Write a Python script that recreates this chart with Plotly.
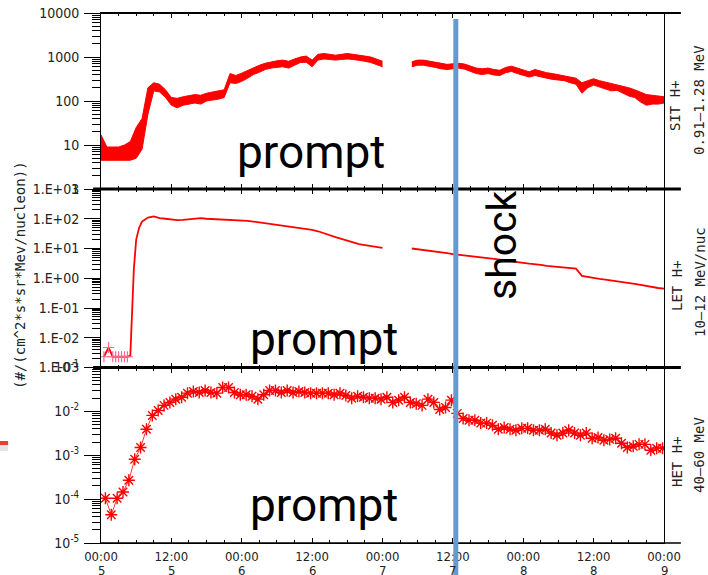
import plotly.graph_objects as go
import pandas as pd

BASE = pd.Timestamp("2012-03-05 00:00")
END = BASE + pd.Timedelta(hours=96)

# ---------------- data ----------------
# SIT H+ 0.91-1.28 MeV : hourly low / high envelope of the noisy trace
sit_hours_1 = list(range(0, 49))
sit_lo_1 = [4.5, 4.5, 4.5, 4.5, 4.5, 4.5, 5, 8, 50, 170, 160, 120, 80, 70, 80, 85, 90, 85, 100, 105,
            110, 120, 260, 250, 280, 330, 400, 450, 520, 560, 580, 600, 560, 650, 750, 760, 600, 850,
            900, 880, 850, 880, 900, 880, 850, 800, 750, 680, 600]
sit_hi_1 = [17, 9, 9, 9, 10, 12, 25, 40, 200, 260, 240, 180, 120, 115, 125, 130, 140, 135, 150, 160,
            170, 180, 420, 380, 430, 500, 580, 650, 720, 780, 820, 850, 800, 900, 1000, 1050, 850, 1150,
            1200, 1150, 1100, 1150, 1200, 1150, 1120, 1050, 1000, 900, 800]
sit_hours_2 = list(range(53, 97))
sit_lo_2 = [600, 650, 650, 620, 580, 540, 520, 540, 560, 530, 470, 420, 400, 420, 390, 380, 440, 470,
            420, 380, 350, 380, 350, 330, 310, 300, 290, 260, 240, 150, 200, 230, 210, 190, 170, 175,
            150, 130, 120, 95, 80, 85, 85, 90]
sit_hi_2 = [780, 850, 850, 800, 760, 720, 680, 700, 720, 690, 620, 560, 540, 560, 520, 500, 580, 620,
            560, 500, 460, 520, 470, 440, 420, 400, 380, 350, 330, 260, 290, 320, 290, 270, 250, 240,
            220, 200, 180, 160, 140, 135, 130, 125]

# LET H+ 10-12 MeV/nuc
let_marker_hours = [0.5, 1.3, 2.0, 2.5, 3.0, 3.5, 4.0, 4.5]
let_marker_vals = [2.3e-3, 4.7e-3, 2.3e-3, 2.3e-3, 2.3e-3, 2.3e-3, 2.3e-3, 2.3e-3]
let_hours_1 = [0.5, 1.3, 2.0, 2.5, 3.0, 3.5, 4.0, 4.5, 5.0, 5.3, 5.6, 6.0, 6.5, 7, 8, 9, 10, 11, 12,
               13, 14, 15, 16, 17, 18, 19, 20, 21, 22, 23, 24, 25, 26, 27, 28, 29, 30, 31, 32, 33,
               34, 35, 36, 37, 38, 39, 40, 41, 42, 43, 44, 45, 46, 47, 48]
let_vals_1 = [2.3e-3, 4.7e-3, 2.3e-3, 2.3e-3, 2.3e-3, 2.3e-3, 2.3e-3, 2.3e-3, 2.5e-3, 0.05, 2.0, 20,
              50, 80, 110, 120, 105, 100, 95, 90, 92, 95, 100, 105, 100, 98, 95, 92, 90, 92, 88, 85,
              80, 75, 70, 68, 65, 60, 55, 52, 50, 45, 42, 38, 32, 28, 24, 21, 18, 16, 14, 13, 12,
              11, 10.5]
let_hours_2 = list(range(53, 97))
let_vals_2 = [10, 9.5, 9, 8.5, 8, 7.5, 7, 6.5, 6.2, 6, 5.5, 5.2, 5, 4.7, 4.5, 4.2, 4, 3.8, 3.6, 3.3,
              3.1, 3, 2.8, 2.6, 2.5, 2.4, 2.3, 2.2, 2.1, 1.2, 1.1, 1.0, 0.95, 0.9, 0.85, 0.8, 0.75,
              0.7, 0.65, 0.6, 0.55, 0.5, 0.47, 0.45]

# HET H+ 40-60 MeV (hourly points starting 00:45 on day 5)
het_vals = [1.05e-4, 4.4e-5, 1.05e-4, 1.45e-4, 2.7e-4, 8.1e-4, 1.5e-3, 3.9e-3, 8.1e-3, 1.05e-2,
            1.37e-2, 1.6e-2, 1.9e-2, 2.1e-2, 2.6e-2, 2.85e-2, 2.7e-2, 3.0e-2, 2.7e-2, 2.6e-2,
            3.5e-2, 3.5e-2, 2.7e-2, 2.4e-2, 2.4e-2, 2.2e-2, 1.9e-2, 2.4e-2, 3.0e-2, 3.0e-2,
            2.7e-2, 3.0e-2, 2.7e-2, 2.85e-2, 2.7e-2, 2.6e-2, 2.6e-2, 2.6e-2, 2.6e-2, 2.4e-2,
            2.6e-2, 2.3e-2, 2.0e-2, 2.2e-2, 2.1e-2, 2.0e-2, 2.0e-2, 1.9e-2, 2.1e-2, 1.6e-2,
            1.8e-2, 2.1e-2,
            1.6e-2, 1.5e-2, 1.37e-2, 1.9e-2, 1.6e-2, 1.1e-2, 1.23e-2, 1.8e-2, 9.0e-3, 6.9e-3,
            6.3e-3, 6.3e-3, 5.4e-3, 5.4e-3, 4.8e-3, 3.9e-3, 4.3e-3, 3.9e-3, 3.7e-3, 4.1e-3,
            4.1e-3, 3.7e-3, 3.7e-3, 3.9e-3, 3.2e-3, 2.85e-3, 3.2e-3, 3.7e-3, 3.2e-3, 2.85e-3,
            3.2e-3, 2.45e-3, 2.55e-3, 2.2e-3, 2.3e-3, 2.45e-3, 1.87e-3, 1.5e-3, 1.6e-3, 1.77e-3,
            1.77e-3, 1.3e-3, 1.45e-3, 1.45e-3]
het_times = pd.date_range(BASE + pd.Timedelta(minutes=45), periods=len(het_vals), freq="h")

shock_time = BASE + pd.Timedelta(hours=60.5)

x_tick_hours = [0, 12, 24, 36, 48, 60, 72, 84, 96]
x_tick_text = ["00:00", "12:00", "00:00", "12:00", "00:00", "12:00", "00:00", "12:00", "00:00"]
x_day_text = ["5", "5", "6", "6", "7", "7", "8", "8", "9"]

sit_ticks = [1, 10, 100, 1000, 10000]
sit_ticktext = ["1", "10", "100", "1000", "10000"]
let_ticks = [1e-3, 1e-2, 1e-1, 1, 10, 100, 1000]
let_ticktext = ["1.E-03", "1.E-02", "1.E-01", "1.E+00", "1.E+01", "1.E+02", "1.E+03"]
het_ticks = [1e-5, 1e-4, 1e-3, 1e-2, 1e-1]
het_ticktext = ["10<sup>-5</sup>", "10<sup>-4</sup>", "10<sup>-3</sup>", "10<sup>-2</sup>", "10<sup>-1</sup>"]


def T(hours):
    return [BASE + pd.Timedelta(hours=h) for h in hours]


def minor_vals(d0, d1):
    return [k * 10.0 ** d for d in range(d0, d1) for k in range(2, 10)]


RED = "#ff0000"
fig = go.Figure()

# SIT band (top panel)
for hrs, lo, hi in [(sit_hours_1, sit_lo_1, sit_hi_1), (sit_hours_2, sit_lo_2, sit_hi_2)]:
    fig.add_trace(go.Scatter(x=T(hrs), y=lo, mode="lines", line=dict(color=RED, width=1),
                             xaxis="x3", yaxis="y3", showlegend=False, hoverinfo="skip"))
    fig.add_trace(go.Scatter(x=T(hrs), y=hi, mode="lines", line=dict(color=RED, width=1),
                             fill="tonexty", fillcolor=RED,
                             xaxis="x3", yaxis="y3", showlegend=False, hoverinfo="skip"))

# LET (middle)
fig.add_trace(go.Scatter(x=T(let_hours_1), y=let_vals_1, mode="lines", line=dict(color=RED, width=1.8),
                         xaxis="x2", yaxis="y2", showlegend=False))
fig.add_trace(go.Scatter(x=T(let_hours_2), y=let_vals_2, mode="lines", line=dict(color=RED, width=1.8),
                         xaxis="x2", yaxis="y2", showlegend=False))
fig.add_trace(go.Scatter(x=T(let_marker_hours), y=let_marker_vals, mode="markers",
                         marker=dict(symbol="cross-thin-open", size=8, line=dict(color=RED, width=1.2)),
                         xaxis="x2", yaxis="y2", showlegend=False))

# HET (bottom)
fig.add_trace(go.Scatter(x=het_times, y=het_vals, mode="lines+markers",
                         line=dict(color=RED, width=0.8),
                         marker=dict(symbol="asterisk-open", size=10, line=dict(color=RED, width=1.4)),
                         xaxis="x", yaxis="y", showlegend=False))

NARROW = "Liberation Sans Narrow, DejaVu Sans Condensed, Liberation Sans"
TICKFONT = dict(family=NARROW, size=14, color="#222")
XTICKFONT = dict(family=NARROW, size=13, color="#222")

d_bot = (543 - 367.5) / 530
d_mid = (543 - 189) / 530

xcommon = dict(type="date", range=[BASE, END], showgrid=False, zeroline=False, automargin=False,
               showline=True, linecolor="black", linewidth=1, mirror="ticks",
               ticks="inside", ticklen=5, tickcolor="black",
               tickvals=T(x_tick_hours),
               minor=dict(ticks="inside", ticklen=3, tickcolor="black",
                          tickvals=T(list(range(0, 97, 3)))))
ycommon = dict(type="log", showgrid=False, zeroline=False, showline=True, linecolor="black",
               linewidth=1, mirror=True, ticks="outside", ticklen=16, tickcolor="black", automargin=False,
               tickfont=TICKFONT, ticklabelstandoff=2)

fig.update_layout(
    width=708, height=575,
    margin=dict(l=101, r=44, t=13, b=32, autoexpand=False),
    paper_bgcolor="white", plot_bgcolor="white",
    xaxis=dict(xcommon, anchor="y", ticktext=x_tick_text, tickfont=XTICKFONT, ticklabelstandoff=1),
    xaxis2=dict(xcommon, anchor="y2", matches="x", showticklabels=False),
    xaxis3=dict(xcommon, anchor="y3", matches="x", showticklabels=False),
    yaxis=dict(ycommon, domain=[0, d_bot], range=[-5, -1], tickvals=het_ticks, ticktext=het_ticktext,
               minor=dict(ticks="outside", ticklen=8, tickcolor="black", tickvals=minor_vals(-5, -1))),
    yaxis2=dict(ycommon, domain=[d_bot, d_mid], range=[-3, 3], tickvals=let_ticks, ticktext=let_ticktext,
                minor=dict(ticks="outside", ticklen=8, tickcolor="black", tickvals=minor_vals(-3, 3))),
    yaxis3=dict(ycommon, domain=[d_mid, 1], range=[0, 4], tickvals=sit_ticks, ticktext=sit_ticktext,
                minor=dict(ticks="outside", ticklen=8, tickcolor="black", tickvals=minor_vals(0, 4))),
)

shapes = []
# panel separators and frame lines extending to the right
for yp, w in [(d_mid, 3), (d_bot, 3)]:
    shapes.append(dict(type="line", xref="paper", yref="paper", x0=-0.014, x1=1.03, y0=yp, y1=yp,
                       line=dict(color="black", width=w)))
shapes.append(dict(type="line", xref="paper", yref="paper", x0=0, x1=1.03, y0=1, y1=1,
                   line=dict(color="black", width=2)))
shapes.append(dict(type="line", xref="paper", yref="paper", x0=0, x1=1.03, y0=0, y1=0,
                   line=dict(color="black", width=1.5)))
# shock line
shapes.append(dict(type="line", xref="x", yref="paper", x0=shock_time, x1=shock_time,
                   y0=(543 - 19) / 530, y1=-0.07, line=dict(color="#6699CC", width=5)))
# small red mark on the left edge
shapes.append(dict(type="rect", xref="paper", yref="paper", x0=-0.18, x1=-0.165,
                   y0=(543 - 445) / 530, y1=(543 - 441) / 530, line=dict(width=0), fillcolor="#e8402a"))
shapes.append(dict(type="rect", xref="paper", yref="paper", x0=-0.18, x1=-0.165,
                   y0=(543 - 451) / 530, y1=(543 - 445) / 530, line=dict(width=0), fillcolor="#e4e4e4"))
fig.update_layout(shapes=shapes)

ann = []
# day numbers under the time labels
for h, d in zip(x_tick_hours, x_day_text):
    ann.append(dict(xref="x", yref="paper", x=BASE + pd.Timedelta(hours=h), y=(543 - 570) / 530,
                    text=d, showarrow=False, font=XTICKFONT, xanchor="center", yanchor="middle"))
PFONT = dict(family="Roboto, Open Sans, sans-serif", size=46, color="black")
for xp, yp in [(311, 152), (324, 339), (324, 505)]:
    ann.append(dict(xref="paper", yref="paper", x=(xp - 101) / 563, y=(543 - yp) / 530, text="prompt",
                    showarrow=False, font=PFONT, xanchor="center", yanchor="middle"))
ann.append(dict(xref="paper", yref="paper", x=(502 - 101) / 563, y=(543 - 245) / 530, text="shock",
                showarrow=False, font=dict(family="Roboto, Open Sans, sans-serif", size=41, color="black"),
                textangle=-90, xanchor="center", yanchor="middle"))
RFONT = dict(family="DejaVu Sans Mono", size=14, color="#222")
for xp, yp, txt in [(675, 106, "SIT H+"), (699, 100, "0.91—1.28 MeV"),
                    (677, 286, "LET H+"), (700, 282, "10—12 MeV/nuc"),
                    (677, 462, "HET H+"), (699, 455, "40—60 MeV")]:
    ann.append(dict(xref="paper", yref="paper", x=(xp - 101) / 563, y=(543 - yp) / 530, text=txt,
                    showarrow=False, font=RFONT, textangle=-90, xanchor="center", yanchor="middle"))
ann.append(dict(xref="paper", yref="paper", x=(20 - 101) / 563, y=(543 - 275) / 530,
                text="(#/(cm^2*s*sr*Mev/nucleon))", showarrow=False,
                font=dict(family="DejaVu Sans Mono", size=14, color="#222"),
                textangle=-90, xanchor="center", yanchor="middle"))
fig.update_layout(annotations=ann)

fig.write_html("out.html")
